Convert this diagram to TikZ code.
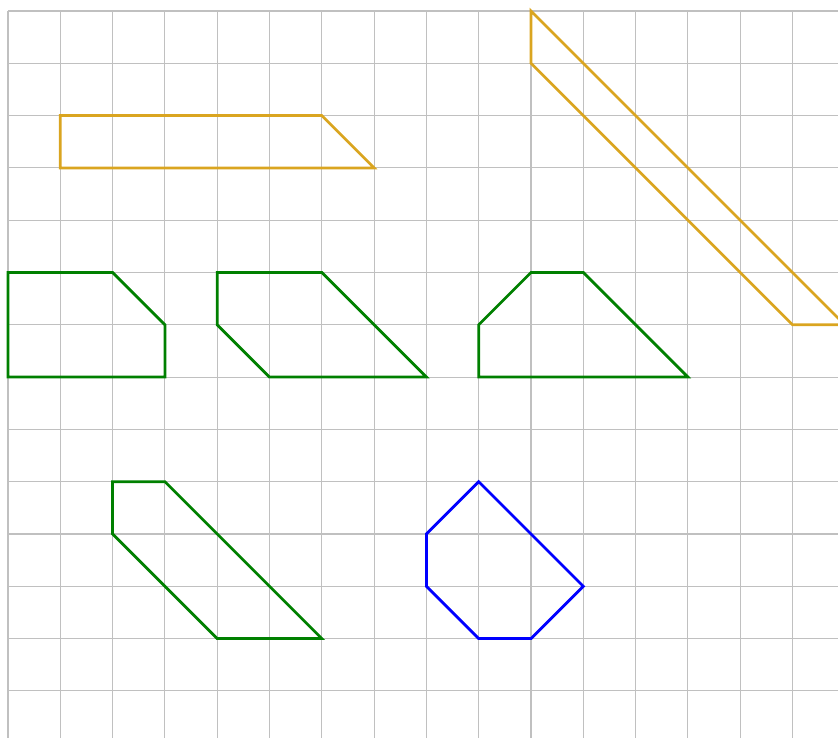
\documentclass[tikz,border=0pt]{standalone}
\definecolor{gridgray}{HTML}{C0C0C0}
\definecolor{gold}{HTML}{DAA520}
\definecolor{dgreen}{RGB}{0,128,0}
\tikzset{
  gridline/.style={draw=gridgray, line width=0.6pt},
  shapeline/.style={line width=1.5pt, line join=miter},
}
\begin{document}
\begin{tikzpicture}
\clip (-0.153,0.21) rectangle (15.87,-13.9);
\useasboundingbox (-0.153,0.21) rectangle (15.87,-13.9);
\foreach \x in {0,...,16} \draw[gridline] (\x,0) -- (\x,-14.5);
\foreach \y in {0,...,14} \draw[gridline] (0,-\y) -- (16.5,-\y);
% orange
\draw[shapeline, gold] (1,-2) -- (6,-2) -- (7,-3) -- (1,-3) -- cycle;
\draw[shapeline, gold] (10,0) -- (16,-6) -- (15,-6) -- (10,-1) -- cycle;
% green
\draw[shapeline, dgreen] (0,-5) -- (2,-5) -- (3,-6) -- (3,-7) -- (0,-7) -- cycle;
\draw[shapeline, dgreen] (4,-5) -- (6,-5) -- (8,-7) -- (5,-7) -- (4,-6) -- cycle;
\draw[shapeline, dgreen] (9,-6) -- (10,-5) -- (11,-5) -- (13,-7) -- (9,-7) -- cycle;
\draw[shapeline, dgreen] (2,-9) -- (3,-9) -- (6,-12) -- (4,-12) -- (2,-10) -- cycle;
% blue
\draw[shapeline, blue] (9,-9) -- (11,-11) -- (10,-12) -- (9,-12) -- (8,-11) -- (8,-10) -- cycle;
\end{tikzpicture}
\end{document}
